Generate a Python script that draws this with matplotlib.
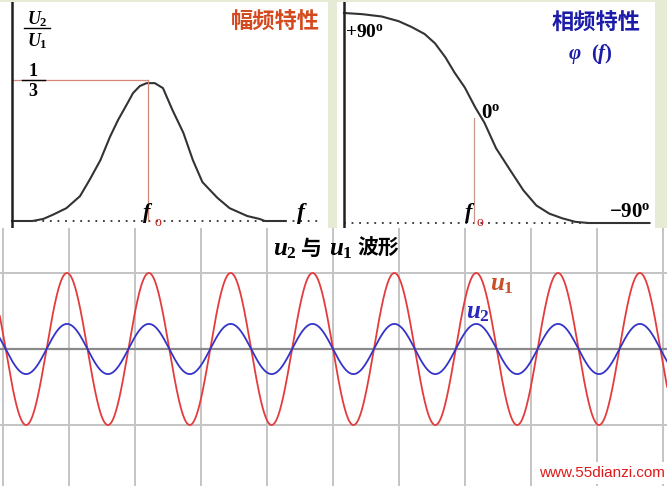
import numpy as np
import matplotlib.pyplot as plt

W, H = 667, 486

# 幅频特性: x = f/f0, y = U2/U1
amp_f = [0.0, 0.15, 0.23, 0.30, 0.40, 0.50, 0.57, 0.65, 0.72, 0.78, 0.85, 0.89, 0.94,
         0.99, 1.02, 1.05, 1.11, 1.18, 1.26, 1.33, 1.40, 1.51, 1.60, 1.73, 1.82, 1.86, 2.01]
amp_v = [0, 0, 0.005, 0.015, 0.031, 0.060, 0.099, 0.147, 0.203, 0.244, 0.285, 0.309, 0.326,
         0.333, 0.333, 0.333, 0.321, 0.268, 0.213, 0.147, 0.094, 0.056, 0.031, 0.012, 0.005, 0, 0]

# 相频特性: x = f/f0, y = phase in degrees
ph_f = [0, 0.14, 0.29, 0.42, 0.52, 0.62, 0.70, 0.78, 0.85, 0.93, 1.01, 1.08,
        1.17, 1.28, 1.38, 1.48, 1.58, 1.68, 1.78, 1.88, 2.12, 2.35]
ph_deg = [90, 89, 87, 83, 78, 72, 64, 52, 39, 26, 9, -4,
          -26, -45, -62, -75, -82, -86, -89, -90, -90, -90]

# 波形: u1 and u2 (amplitude relative to u1, period and first peak in grid divisions)
wave_names = ['u1', 'u2']
wave_amp = [1.0, 0.33]
wave_period = 1.24
wave_peak = 0.97
n_grid = 10

plt.rcParams['mathtext.fontset'] = 'custom'
plt.rcParams['mathtext.rm'] = 'Liberation Serif:bold'
plt.rcParams['mathtext.it'] = 'Liberation Serif:italic:bold'
plt.rcParams['mathtext.bf'] = 'Liberation Serif:bold'

fig = plt.figure(figsize=(W / 100, H / 100), dpi=100, facecolor='#e6ebd6')


def rect(x0, y0, x1, y1):
    return [x0 / W, 1 - y1 / H, (x1 - x0) / W, (y1 - y0) / H]


def put(x, y, s, **kw):
    kw.setdefault('ha', 'center')
    kw.setdefault('va', 'center')
    fig.text(x / W, 1 - y / H, s, **kw)


def bare(ax):
    ax.set_facecolor('white')
    for s in ax.spines.values():
        s.set_visible(False)
    ax.set_xticks([])
    ax.set_yticks([])


cjk = ['Noto Sans CJK SC', 'DejaVu Sans']

### bottom: waveforms
ax3 = fig.add_axes(rect(0, 228, 667, 486))
bare(ax3)
ax3.set_xlim(-3 / 66, 664 / 66)
ax3.set_ylim(-137 / 76, 121 / 76)
for k in range(n_grid + 1):
    ax3.axvline(k, color='#c4c4c4', lw=1.4, zorder=1)
ax3.axhline(1, color='#c4c4c4', lw=1.4, zorder=1)
ax3.axhline(-1, color='#c4c4c4', lw=1.4, zorder=1)
ax3.axhline(0, color='#8a8a8a', lw=1.6, zorder=1)
t = np.linspace(-0.1, 10.2, 3000)
colors = {'u1': '#e43c3c', 'u2': '#3434c8'}
for name, a in zip(wave_names, wave_amp):
    ax3.plot(t, a * np.cos(2 * np.pi * (t - wave_peak) / wave_period),
             color=colors[name], lw=1.3, zorder=3)

### top left: amplitude response
ax1 = fig.add_axes(rect(0, 2, 328, 228))
bare(ax1)
ax1.set_xlim(-12 / 136, 316 / 136)
ax1.set_ylim(-7 / 414, 219 / 414)
ax1.plot([0, 2.27], [0, 0], color='#303030', lw=1.3, ls=(0, (1, 3.2)))
ax1.plot(amp_f, amp_v, color='#333333', lw=1.5)
ax1.plot([0, 1.0], [1 / 3 + 0.007, 1 / 3 + 0.007], color='#d48878', lw=0.9)
ax1.plot([1.0, 1.0], [0, 1 / 3 + 0.007], color='#d48878', lw=0.9)
ax1.axvline(0, color='#202020', lw=1.8)

### top right: phase response
ax2 = fig.add_axes(rect(337, 2, 655, 228))
bare(ax2)
ax2.set_xlim(-7 / 130, 311 / 130)
ax2.set_ylim((118 - 228) / 1.1667, (118 - 2) / 1.1667)
ax2.plot([0, 2.35], [-90, -90], color='#303030', lw=1.3, ls=(0, (1, 3.2)))
ax2.plot(ph_f, ph_deg, color='#333333', lw=1.5)
ax2.plot([1.0, 1.0], [-90, 0], color='#c89888', lw=0.9)
ax2.axvline(0, color='#202020', lw=1.8)

### texts
put(37, 19, r'$U_{\mathrm{2}}$', fontsize=13)
fig.add_artist(plt.Line2D([24 / W, 50 / W], [1 - 28 / H, 1 - 28 / H], color='black', lw=1))
put(37, 41, r'$U_{\mathrm{1}}$', fontsize=13)
put(33, 72, '1', fontsize=13, family='Liberation Serif', weight='bold')
fig.add_artist(plt.Line2D([22 / W, 45 / W], [1 - 80 / H, 1 - 80 / H], color='black', lw=1))
put(33, 91, '3', fontsize=13, family='Liberation Serif', weight='bold')
put(275, 22, '幅频特性', fontsize=16, color='#d44a1e', family=cjk, weight='bold')
put(302, 213, r'$f$', fontsize=17)
put(148, 213, r'$f$', fontsize=16)
put(158, 223, 'o', fontsize=10, color='#c02020', family='Liberation Serif')

put(365, 32, r'$\mathrm{+90^o}$', fontsize=14)
put(596, 23, '相频特性', fontsize=16, color='#1c1ca8', family=cjk, weight='bold')
put(590, 54, r'$\varphi\ \ (f)$', fontsize=15, color='#1c1ca8')
put(491, 112, r'$\mathrm{0^o}$', fontsize=15)
put(630, 211, r'$\mathrm{-90^o}$', fontsize=15)
put(470, 213, r'$f$', fontsize=16)
put(480, 223, 'o', fontsize=10, color='#c02020', family='Liberation Serif')

put(285, 249, r'$u_{\mathrm{2}}$', fontsize=18)
put(311, 248, '与', fontsize=15, family=cjk, weight='bold')
put(341, 249, r'$u_{\mathrm{1}}$', fontsize=18)
put(378, 248, '波形', fontsize=15, family=cjk, weight='bold')
put(502, 284, r'$u_{\mathrm{1}}$', fontsize=18, color='#c8502a')
put(478, 312, r'$u_{\mathrm{2}}$', fontsize=18, color='#2828c0')

put(602, 473, 'www.55dianzi.com', fontsize=11, color='#e01818',
    family='Liberation Sans',
    bbox=dict(facecolor='white', edgecolor='none', pad=3))

fig.savefig('out.png', dpi=100, facecolor=fig.get_facecolor())
